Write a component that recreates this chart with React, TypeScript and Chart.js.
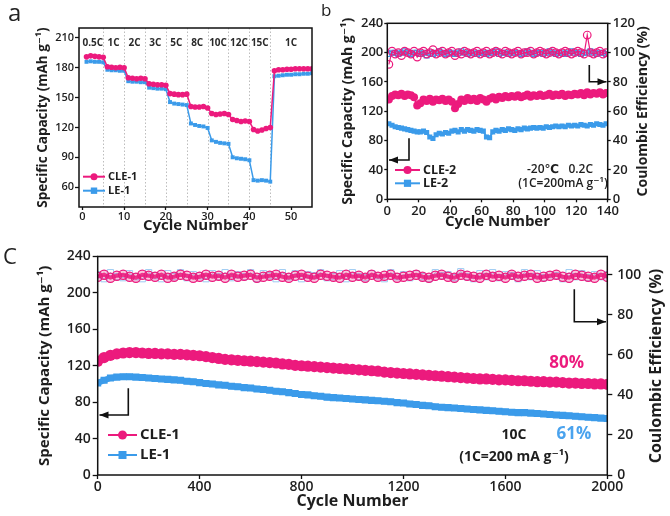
import React, { useEffect, useRef } from "react";
import { Chart, registerables } from "chart.js";
Chart.register(...registerables);

const PINK = "#ec1a7d";
const BLUE = "#3b9bea";
const INK = "#1e1e1e";
const FONT = "'Open Sans', 'DejaVu Sans', sans-serif";

// ---------- Panel a: rate capability ----------
const aCycles = Array.from({ length: 55 }, (_, i) => i + 1);
const aCLE1 = [
  191, 192, 191.5, 191, 190.5,
  181, 180.5, 180, 180.5, 180,
  170, 169.5, 169, 169.5, 169,
  164, 163.5, 163, 163, 162.5,
  154, 153.5, 153, 153, 153.5,
  141, 140.5, 140.5, 141, 139.5,
  134, 133, 133.5, 134, 133,
  128, 127, 126, 126.5, 126,
  118, 116.5, 117.5, 119, 120,
  177, 178, 178, 178.5, 178.5, 179, 179, 179, 179, 179,
];
const aLE1 = [
  186, 186.5, 186, 186, 185.5,
  178, 177.5, 177.5, 177, 177,
  166.5, 166, 166, 165.5, 165.5,
  160, 159.5, 159, 159, 158.5,
  145.5, 144, 143.5, 143, 142.5,
  124, 122.5, 121.5, 121, 119.5,
  107, 105.5, 104.5, 104, 103.5,
  90, 89, 88.5, 88, 87,
  67, 66.5, 67, 66.5, 65.5,
  171.5, 172, 172.5, 173, 173, 173.5, 173.5, 174, 174, 174.5,
];
const rateLabels = ["0.5C", "1C", "2C", "3C", "5C", "8C", "10C", "12C", "15C", "1C"];
const rateCenters = [2.5, 7.5, 12.5, 17.5, 22.5, 27.5, 32.5, 37.5, 42.5, 50];
const rateBounds = [5, 10, 15, 20, 25, 30, 35, 40, 45];
const aXTicks = [0, 10, 20, 30, 40, 50];
const aYTicks = [60, 90, 120, 150, 180, 210];

// ---------- Panel b: -20 C cycling ----------
const bCycles = Array.from({ length: 70 }, (_, i) => 2 * i + 1);
const bCLE2Cap = [
  136, 141, 143, 142, 144, 141, 143, 142, 139, 128,
  131, 136, 134, 137, 133, 136, 135, 137, 134, 136,
  133, 124, 130, 136, 134, 138, 135, 137, 134, 138,
  136, 133, 137, 139, 136, 140, 138, 141, 139, 141,
  140, 142, 139, 141, 143, 140, 142, 141, 143, 141,
  142, 144, 141, 143, 142, 144, 141, 143, 142, 144,
  143, 145, 142, 146, 143, 145, 144, 146, 143, 145,
];
const bLE2Cap = [
  103, 101, 99, 98, 97, 96, 95, 94, 93, 92,
  92, 93, 91, 85, 83, 88, 90, 89, 91, 90,
  93, 94, 92, 95, 93, 95, 94, 93, 95, 94,
  93, 85, 84, 92, 94, 93, 95, 94, 96, 95,
  94, 96, 95, 97, 96, 97, 98, 97, 98, 97,
  99, 98, 99, 100, 99, 100, 99, 101, 100, 101,
  100, 102, 101, 100, 102, 101, 103, 102, 101, 103,
];
const bCLE2CE = [
  92, 101, 99, 100, 98, 101, 100, 99, 101, 97,
  100, 101, 99, 100, 102, 99, 100, 101, 99, 100,
  101, 98, 100, 99, 101, 100, 99, 100, 101, 99,
  100, 101, 99, 100, 101, 100, 99, 101, 100, 99,
  100, 101, 99, 100, 100, 101, 99, 100, 101, 100,
  99, 100, 101, 100, 99, 100, 101, 100, 99, 100,
  101, 100, 99, 112, 100, 99, 100, 101, 99, 100,
];
const bLE2CE = [
  99, 100, 100, 99, 100, 101, 100, 99, 100, 100,
  99, 100, 98, 100, 99, 100, 101, 100, 99, 100,
  100, 99, 100, 101, 100, 99, 100, 100, 99, 100,
  100, 99, 100, 100, 101, 99, 100, 100, 99, 100,
  100, 100, 99, 100, 101, 100, 99, 100, 100, 99,
  100, 101, 100, 99, 100, 100, 99, 100, 101, 100,
  100, 99, 100, 100, 101, 100, 99, 100, 100, 99,
];
const bXTicks = [0, 20, 40, 60, 80, 100, 120, 140];
const bYTicks = [0, 40, 80, 120, 160, 200, 240];
const bY2Ticks = [0, 20, 40, 60, 80, 100, 120];

// ---------- Panel c: 10C long cycling ----------
const cCycles = Array.from({ length: 81 }, (_, i) => i * 25);
const cCLE1Cap = [
  125, 129, 131.5, 133, 134, 134.5, 134.5, 134, 133.5, 133.5,
  133, 133, 132.5, 132.5, 132, 131.5, 131, 130, 129, 128,
  127, 126.5, 126, 125.5, 125, 124.5, 124, 123.5, 123, 122,
  121.5, 120.5, 120, 119.5, 119, 118.5, 118, 117.5, 117, 116.5,
  116, 115.5, 115, 114.5, 114, 113, 112.5, 112, 111.5, 111,
  110.5, 110, 109.5, 109, 108.5, 108, 107.5, 107, 106.5, 106,
  105.5, 105.5, 105, 104.5, 104.5, 104, 103.5, 103.5, 103, 102.5,
  102.5, 102, 102, 101.5, 101, 101, 100.5, 100.5, 100, 100,
  99.5,
];
const cLE1Cap = [
  101, 104, 106.5, 107.5, 108, 108, 107.5, 107, 106.5, 106,
  105.5, 105, 104.5, 104, 103, 102.5, 101.5, 100.5, 100, 99,
  98.5, 97.5, 97, 96, 95.5, 94.5, 94, 93, 92, 91.5,
  90.5, 89.5, 88.5, 88, 87, 86.5, 85.5, 85, 84.5, 84,
  83.5, 83, 82.5, 82, 81.5, 81, 80.5, 79.5, 79, 78,
  77.5, 76.5, 76, 75, 74.5, 74, 73.5, 73, 72.5, 72,
  71.5, 71, 70.5, 70, 69.5, 69, 68.5, 68.5, 68, 67.5,
  67, 66.5, 66, 65.5, 65, 64.5, 64, 63.5, 63, 62.5,
  62,
];
const cCLE1CE = [
  99, 100, 98.5, 99.5, 100, 99, 98.5, 100, 99.5, 99,
  100, 98.5, 99, 100, 99.5, 98.5, 99, 100, 99, 99.5,
  98.5, 100, 99, 99.5, 100, 98.5, 99, 99.5, 100, 99,
  98.5, 99.5, 100, 99, 98.5, 100, 99.5, 99, 98.5, 100,
  99, 99.5, 98.5, 100, 99, 99.5, 100, 98.5, 99, 99.5,
  100, 99, 98.5, 99.5, 100, 99, 98.5, 100, 99.5, 99,
  98.5, 100, 99, 99.5, 98.5, 100, 99, 99.5, 100, 98.5,
  99, 99.5, 100, 99, 98.5, 100, 99.5, 99, 98.5, 100,
  99,
];
const cLE1CE = [
  100, 98, 101, 99, 98.5, 100.5, 99, 98, 101, 99.5,
  98, 100.5, 99, 101, 98.5, 100, 99.5, 98, 100.5, 99,
  101, 98.5, 100, 99, 101, 98, 100.5, 99.5, 98, 101,
  99, 100.5, 98, 100, 99.5, 101, 98.5, 99, 100.5, 98,
  101, 99, 98.5, 100.5, 99.5, 98, 101, 99, 100, 98.5,
  100.5, 99, 98, 101, 99.5, 100, 98.5, 101.5, 99, 98,
  100.5, 99, 101, 98.5, 100, 99.5, 98, 101, 99, 100.5,
  98.5, 100, 99.5, 98, 101, 99, 100.5, 98.5, 100, 99,
  100,
];
const cXTicks = [0, 400, 800, 1200, 1600, 2000];
const cYTicks = [0, 40, 80, 120, 160, 200, 240];
const cY2Ticks = [0, 20, 40, 60, 80, 100];

// ---------- helpers ----------
const pts = (xs: number[], ys: number[]) => xs.map((x, i) => ({ x, y: ys[i] }));
const fixTicks = (vals: number[]) => (s: any) => {
  s.ticks = vals.map((v) => ({ value: v }));
};
const font = (size: number, weight: string | number = "600") => ({ family: FONT, size, weight, lineHeight: 1.2 });

function frame(ctx: CanvasRenderingContext2D, a: any) {
  ctx.save();
  ctx.strokeStyle = "#111";
  ctx.lineWidth = 1.5;
  ctx.strokeRect(a.left, a.top, a.right - a.left, a.bottom - a.top);
  ctx.restore();
}
function arrow(ctx: CanvasRenderingContext2D, path: number[][], dir: "left" | "right") {
  ctx.save();
  ctx.strokeStyle = "#111";
  ctx.fillStyle = "#111";
  ctx.lineWidth = 1.6;
  ctx.beginPath();
  ctx.moveTo(path[0][0], path[0][1]);
  for (let i = 1; i < path.length; i++) ctx.lineTo(path[i][0], path[i][1]);
  ctx.stroke();
  const [x, y] = path[path.length - 1];
  const d = dir === "left" ? 1 : -1;
  ctx.beginPath();
  ctx.moveTo(x, y);
  ctx.lineTo(x + d * 9, y - 3.5);
  ctx.lineTo(x + d * 9, y + 3.5);
  ctx.closePath();
  ctx.fill();
  ctx.restore();
}
function text(ctx: CanvasRenderingContext2D, s: string, x: number, y: number, size: number, color = INK, align: CanvasTextAlign = "left", weight = "bold") {
  ctx.save();
  ctx.font = `${weight} ${size}px ${FONT}`;
  ctx.fillStyle = color;
  ctx.textAlign = align;
  ctx.textBaseline = "middle";
  ctx.fillText(s, x, y);
  ctx.restore();
}
function vtext(ctx: CanvasRenderingContext2D, s: string, x: number, y: number, size: number) {
  ctx.save();
  ctx.translate(x, y);
  ctx.rotate(-Math.PI / 2);
  ctx.font = `bold ${size}px ${FONT}`;
  ctx.fillStyle = INK;
  ctx.textAlign = "center";
  ctx.textBaseline = "middle";
  ctx.fillText(s, 0, 0);
  ctx.restore();
}
function legendItem(ctx: CanvasRenderingContext2D, x0: number, x1: number, y: number, color: string, shape: "circle" | "rect", r: number, label: string, size: number) {
  ctx.save();
  ctx.strokeStyle = color;
  ctx.fillStyle = color;
  ctx.lineWidth = 2;
  ctx.beginPath();
  ctx.moveTo(x0, y);
  ctx.lineTo(x1, y);
  ctx.stroke();
  const cx = (x0 + x1) / 2;
  ctx.beginPath();
  if (shape === "circle") ctx.arc(cx, y, r, 0, Math.PI * 2);
  else ctx.rect(cx - r, y - r, 2 * r, 2 * r);
  ctx.fill();
  ctx.restore();
  text(ctx, label, x1 + 3, y, size);
}

const plain = (v: any) => String(v);

function axisX(min: number, max: number, ticks: number[], height: number, size: number, tl: number, pad: number, titleSize: number, titlePad: number) {
  return {
    type: "linear",
    min,
    max,
    afterBuildTicks: fixTicks(ticks),
    afterFit: (s: any) => {
      s.height = height;
    },
    grid: { display: true, drawOnChartArea: false, tickLength: tl, color: "#111", tickWidth: 1.3 },
    border: { display: false },
    ticks: { font: font(size), color: INK, padding: pad, maxRotation: 0, autoSkip: false, callback: plain },
    title: { display: true, text: "Cycle Number", font: font(titleSize, "bold"), color: INK, padding: { top: 0, bottom: titlePad } },
  };
}
function axisY(position: string, min: number, max: number, ticks: number[], width: number, size: number, tl: number, pad: number, title: any) {
  return {
    type: "linear",
    position,
    min,
    max,
    afterBuildTicks: fixTicks(ticks),
    afterFit: (s: any) => {
      s.width = width;
    },
    grid: { display: true, drawOnChartArea: false, tickLength: tl, color: "#111", tickWidth: 1.3 },
    border: { display: false },
    ticks: { font: font(size), color: INK, padding: pad, autoSkip: false, callback: plain },
    title,
  };
}
const capTitle = (size: number, pad: number) => ({
  display: true,
  text: "Specific Capacity (mAh g\u207B\u00B9)",
  font: font(size, "bold"),
  color: INK,
  padding: { top: pad, bottom: 0 },
});

const baseOptions = (padding: any) => ({
  responsive: false,
  animation: false,
  events: [],
  layout: { padding },
  plugins: { legend: { display: false }, tooltip: { enabled: false } },
});

// ---------- configs ----------
function configA(): any {
  return {
    type: "scatter",
    data: {
      datasets: [
        {
          data: pts(aCycles, aCLE1),
          showLine: true,
          borderColor: PINK,
          backgroundColor: PINK,
          borderWidth: 1.5,
          pointStyle: "circle",
          pointRadius: 2.8,
          pointBorderWidth: 0,
          order: 0,
        },
        {
          data: pts(aCycles, aLE1),
          showLine: true,
          borderColor: BLUE,
          backgroundColor: BLUE,
          borderWidth: 1.5,
          pointStyle: "rect",
          pointRadius: 2.8,
          pointBorderWidth: 0,
          order: 1,
        },
      ],
    },
    options: {
      ...baseOptions({ left: 0, top: 28, right: 18, bottom: 0 }),
      scales: {
        x: axisX(-0.8, 55, aXTicks, 28, 11, 3, 0, 15, 0),
        y: axisY("left", 40, 220, aYTicks, 79, 11, 4, 1, capTitle(13.5, 35)),
      },
    },
    plugins: [
      {
        id: "decorA",
        beforeDatasetsDraw(chart: any) {
          const { ctx, chartArea: a, scales } = chart;
          ctx.save();
          ctx.strokeStyle = "#bdbdbd";
          ctx.lineWidth = 1;
          ctx.setLineDash([1.5, 2]);
          rateBounds.forEach((b) => {
            const x = Math.round(scales.x.getPixelForValue(b)) + 0.5;
            ctx.beginPath();
            ctx.moveTo(x, a.top);
            ctx.lineTo(x, a.bottom);
            ctx.stroke();
          });
          ctx.restore();
          rateLabels.forEach((l, i) => {
            text(ctx, l, scales.x.getPixelForValue(rateCenters[i]), a.top + 15, 10, "#2a2a2a", "center");
          });
        },
        afterDraw(chart: any) {
          const { ctx, chartArea: a } = chart;
          frame(ctx, a);
          legendItem(ctx, 83, 105, 176.7, PINK, "circle", 3.5, "CLE-1", 11);
          legendItem(ctx, 83, 105, 190.7, BLUE, "rect", 3.2, "LE-1", 11);
        },
      },
    ],
  };
}

function configB(): any {
  return {
    type: "scatter",
    data: {
      datasets: [
        {
          data: pts(bCycles, bCLE2CE),
          yAxisID: "y2",
          showLine: true,
          borderColor: PINK,
          backgroundColor: "rgba(255,255,255,0)",
          borderWidth: 1.2,
          pointStyle: "circle",
          pointRadius: 3.8,
          pointBorderWidth: 1.2,
          pointBorderColor: PINK,
          order: 1,
        },
        {
          data: pts(bCycles, bLE2CE),
          yAxisID: "y2",
          showLine: true,
          borderColor: BLUE,
          backgroundColor: "rgba(255,255,255,0)",
          borderWidth: 1,
          pointStyle: "rect",
          pointRadius: 3.4,
          pointBorderWidth: 1.2,
          pointBorderColor: BLUE,
          order: 2,
        },
        {
          data: pts(bCycles, bCLE2Cap),
          yAxisID: "y",
          showLine: true,
          borderColor: PINK,
          backgroundColor: PINK,
          borderWidth: 2,
          pointStyle: "circle",
          pointRadius: 4,
          pointBorderWidth: 0,
          order: 0,
        },
        {
          data: pts(bCycles, bLE2Cap),
          yAxisID: "y",
          showLine: true,
          borderColor: BLUE,
          backgroundColor: BLUE,
          borderWidth: 2,
          pointStyle: "rect",
          pointRadius: 3.6,
          pointBorderWidth: 0,
          order: 0,
        },
      ],
    },
    options: {
      ...baseOptions({ left: 0, top: 23.3, right: 0, bottom: 0 }),
      scales: {
        x: axisX(0, 140, bXTicks, 35.7, 13, 3, 1, 15, 4),
        y: axisY("left", 0, 240, bYTicks, 57.3, 13, 3, 1, capTitle(14, 9.6)),
        y2: axisY("right", 0, 120, bY2Ticks, 62.3, 13, 3, 2, { display: false }),
      },
    },
    plugins: [
      {
        id: "decorB",
        afterDraw(chart: any) {
          const { ctx, chartArea: a } = chart;
          frame(ctx, a);
          vtext(ctx, "Coulombic Efficiency (%)", 312.7, 111.3, 14);
          arrow(ctx, [[79, 138.3], [79, 160], [59, 160]], "left");
          arrow(ctx, [[259.3, 65], [259.3, 81.7], [276.5, 81.7]], "right");
          legendItem(ctx, 65, 90, 170, PINK, "circle", 4, "CLE-2", 12.5);
          legendItem(ctx, 65, 90, 183.3, BLUE, "rect", 3.6, "LE-2", 12.5);
          text(ctx, "-20\u2103   0.2C", 230, 170, 12, INK, "center", "600");
          text(ctx, "(1C=200mA g\u207B\u00B9)", 233, 184, 12, INK, "center", "600");
        },
      },
    ],
  };
}

function configC(): any {
  return {
    type: "scatter",
    data: {
      datasets: [
        {
          data: pts(cCycles, cCLE1CE),
          yAxisID: "y2",
          showLine: true,
          borderColor: "rgba(236,26,125,0.85)",
          backgroundColor: "rgba(236,26,125,0.25)",
          borderWidth: 4,
          pointStyle: "circle",
          pointRadius: 4.6,
          pointBorderWidth: 1.2,
          pointBorderColor: PINK,
          order: 1,
        },
        {
          data: pts(cCycles, cLE1CE),
          yAxisID: "y2",
          showLine: true,
          borderColor: "#9ccaf2",
          backgroundColor: "rgba(255,255,255,0)",
          borderWidth: 1,
          pointStyle: "rect",
          pointRadius: 4.4,
          pointBorderWidth: 1,
          pointBorderColor: "#9ccaf2",
          order: 2,
        },
        {
          data: pts(cCycles, cCLE1Cap),
          yAxisID: "y",
          showLine: true,
          borderColor: PINK,
          backgroundColor: PINK,
          borderWidth: 6,
          pointStyle: "circle",
          pointRadius: 5.6,
          pointBorderWidth: 0,
          order: 0,
        },
        {
          data: pts(cCycles, cLE1Cap),
          yAxisID: "y",
          showLine: true,
          borderColor: BLUE,
          backgroundColor: BLUE,
          borderWidth: 6,
          pointStyle: "rect",
          pointRadius: 5,
          pointBorderWidth: 0,
          order: 0,
        },
      ],
    },
    options: {
      ...baseOptions({ left: 0, top: 21.5, right: 0, bottom: 0 }),
      scales: {
        x: axisX(0, 2000, cXTicks, 41, 14, 4, 0, 16, 4.7),
        y: axisY("left", 0, 240, cYTicks, 97.7, 14, 5, 2, capTitle(15, 36)),
        y2: axisY("right", 0, 109.09, cY2Ticks, 62.7, 14, 5, 5, { display: false }),
      },
    },
    plugins: [
      {
        id: "decorC",
        afterDraw(chart: any) {
          const { ctx, chartArea: a } = chart;
          frame(ctx, a);
          vtext(ctx, "Coulombic Efficiency (%)", 656.7, 131, 16);
          arrow(ctx, [[128.3, 153.3], [128.3, 180], [99.5, 180]], "left");
          arrow(ctx, [[574.3, 54.3], [574.3, 86.7], [606, 86.7]], "right");
          legendItem(ctx, 108, 137, 200, PINK, "circle", 4.5, "CLE-1", 15);
          legendItem(ctx, 108, 137, 220, BLUE, "rect", 4, "LE-1", 15);
          text(ctx, "80%", 566.6, 128.3, 17, PINK, "center");
          text(ctx, "61%", 574, 199, 17, "#4aa3ee", "center");
          text(ctx, "10C", 514, 200.5, 14, INK, "center");
          text(ctx, "(1C=200 mA g\u207B\u00B9)", 514, 221.7, 14, INK, "center");
        },
      },
    ],
  };
}

function ChartCanvas({ make, left, top, width, height }: any) {
  const ref = useRef<HTMLCanvasElement | null>(null);
  useEffect(() => {
    const chart = new Chart(ref.current as HTMLCanvasElement, make());
    return () => chart.destroy();
  }, []);
  return (
    <canvas
      ref={ref}
      width={width}
      height={height}
      style={{ position: "absolute", left, top, width, height }}
    />
  );
}

const panelLabel = (t: string, left: number, top: number, size: number) => (
  <div
    style={{
      position: "absolute",
      left,
      top,
      fontFamily: "'Open Sans', sans-serif",
      fontSize: size,
      lineHeight: 1,
      color: "#222",
    }}
  >
    {t}
  </div>
);

export default function App() {
  return (
    <div style={{ position: "fixed", left: 0, top: 0, width: 670, height: 516, background: "#fff", overflow: "hidden" }}>
      <ChartCanvas make={configA} left={0} top={0} width={330} height={235} />
      <ChartCanvas make={configB} left={330} top={0} width={340} height={235} />
      <ChartCanvas make={configC} left={0} top={235} width={670} height={281} />
      {panelLabel("a", 8, 0, 24)}
      {panelLabel("b", 321, 1, 17)}
      {panelLabel("C", 3, 244, 22)}
    </div>
  );
}
